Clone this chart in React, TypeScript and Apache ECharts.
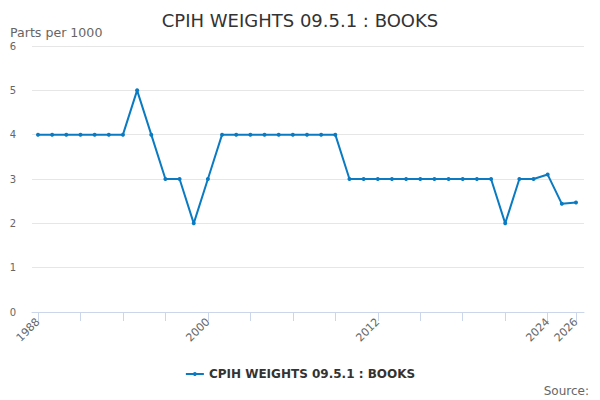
import React, { useEffect, useRef } from "react";
import * as echarts from "echarts";

const years = [
  1988, 1989, 1990, 1991, 1992, 1993, 1994, 1995, 1996, 1997, 1998, 1999, 2000,
  2001, 2002, 2003, 2004, 2005, 2006, 2007, 2008, 2009, 2010, 2011, 2012, 2013,
  2014, 2015, 2016, 2017, 2018, 2019, 2020, 2021, 2022, 2023, 2024, 2025, 2026,
];
const values = [
  4, 4, 4, 4, 4, 4, 4, 5, 4, 3, 3, 2, 3,
  4, 4, 4, 4, 4, 4, 4, 4, 4, 3, 3, 3, 3,
  3, 3, 3, 3, 3, 3, 3, 2, 3, 3, 3.1, 2.44, 2.47,
];
const tickYears = [1988, 1991, 1994, 1997, 2000, 2003, 2006, 2009, 2012, 2015, 2018, 2021, 2024, 2026];
const labelYears = [1988, 2000, 2012, 2024, 2026];
const seriesName = "CPIH WEIGHTS 09.5.1 : BOOKS";

export default function App() {
  const ref = useRef<HTMLDivElement>(null);
  useEffect(() => {
    if (!ref.current) return;
    const chart = echarts.init(ref.current, undefined, { renderer: "svg" });
    const font = "'DejaVu Sans', sans-serif";
    chart.setOption({
      animation: false,
      title: {
        text: "CPIH WEIGHTS 09.5.1 : BOOKS",
        left: "center",
        top: 6,
        textStyle: { fontFamily: font, fontSize: 18, fontWeight: "normal", color: "#333333" },
      },
      graphic: [
        {
          type: "text",
          left: 10,
          top: 26,
          style: { text: "Parts per 1000", fontFamily: font, fontSize: 12.6, fill: "#666666" },
        },
        {
          type: "text",
          right: 11,
          top: 385,
          style: { text: "Source:", fontFamily: font, fontSize: 12, fill: "#666666" },
        },
      ],
      legend: {
        bottom: 15,
        left: "center",
        itemWidth: 18,
        itemHeight: 5,
        textStyle: { fontFamily: font, fontSize: 12, fontWeight: "bold", color: "#333333" },
        data: [seriesName],
      },
      grid: { left: 32, right: 16, top: 46, bottom: 88 },
      xAxis: {
        type: "value",
        min: 1988 - 6 / 14.158,
        max: 2026 + 8 / 14.158,
        splitLine: { show: false },
        axisLine: { show: true, lineStyle: { color: "#ccd6eb" } },
        axisTick: {
          show: true,
          length: 9,
          customValues: tickYears,
          lineStyle: { color: "#ccd6eb" },
        },
        axisLabel: {
          customValues: labelYears,
          rotate: 45,
          margin: 8,
          fontFamily: font,
          fontSize: 11,
          color: "#666666",
          formatter: (v: number) => String(v),
        },
      },
      yAxis: {
        type: "value",
        min: 0,
        max: 6,
        interval: 1,
        axisLine: { show: false },
        axisTick: { show: false },
        splitLine: { lineStyle: { color: "#e6e6e6" } },
        axisLabel: { margin: 16, fontFamily: font, fontSize: 10, color: "#666666" },
      },
      series: [
        {
          name: seriesName,
          type: "line",
          data: years.map((y, i) => [y, values[i]]),
          symbol: "circle",
          symbolSize: 4,
          lineStyle: { width: 2, color: "#0a7bc2" },
          itemStyle: { color: "#0a7bc2" },
        },
      ],
    });
    return () => chart.dispose();
  }, []);
  return <div ref={ref} style={{ width: 600, height: 400, position: "absolute", left: 0, top: 0 }} />;
}
